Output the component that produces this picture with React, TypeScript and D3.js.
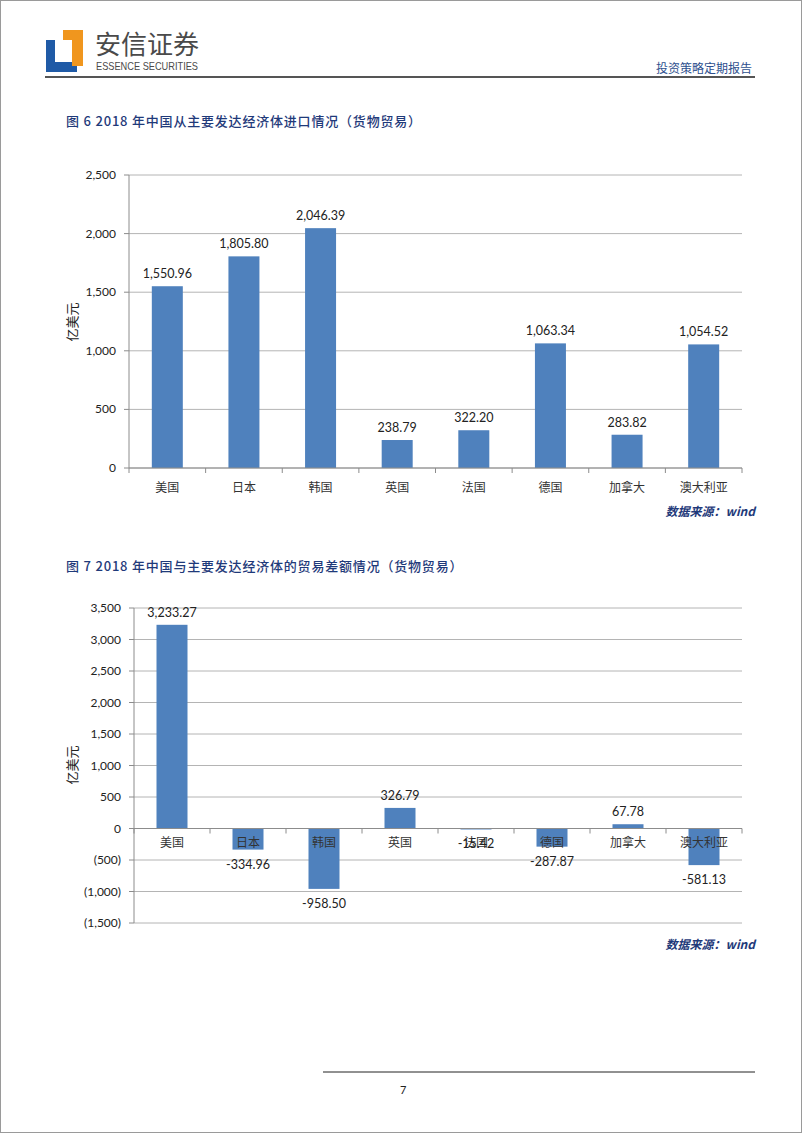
import React from 'react';
import * as d3 from 'd3';

const categories = ['美国', '日本', '韩国', '英国', '法国', '德国', '加拿大', '澳大利亚'];
const importValues = [1550.96, 1805.8, 2046.39, 238.79, 322.2, 1063.34, 283.82, 1054.52];
const balanceValues = [3233.27, -334.96, -958.5, 326.79, -15.42, -287.87, 67.78, -581.13];
const importTicks = [0, 500, 1000, 1500, 2000, 2500];
const balanceTicks = [-1500, -1000, -500, 0, 500, 1000, 1500, 2000, 2500, 3000, 3500];

const BLUE = '#4f81bd';
const TITLE = '#1f3a7a';
const numFont = 'Lato, "Open Sans", sans-serif';
const cjkFont = '"Noto Sans CJK SC", sans-serif';

const fmtTick = (v: number) => (v < 0 ? '(' + d3.format(',')(-v) + ')' : d3.format(',')(v));
const fmtVal = (v: number) => (v < 0 ? '-' + d3.format(',.2f')(-v) : d3.format(',.2f')(v));

type ChartProps = {
  values: number[];
  ticks: number[];
  x0: number;
  x1: number;
  yTop: number;
  yBottom: number;
  catY: number;
  titleX: number;
  titleY: number;
};

function BarChart(p: ChartProps) {
  const x = d3.scaleBand<string>().domain(categories).range([p.x0, p.x1]);
  const ext = d3.extent(p.ticks) as [number, number];
  const y = d3.scaleLinear().domain(ext).range([p.yBottom, p.yTop]);
  const bw = 31;
  const zero = y(0);
  const bounds = categories.map((c) => x(c) as number).concat([p.x1]);
  return (
    <g>
      {p.ticks.map((t) => (
        <g key={t}>
          <line x1={p.x0} x2={p.x1} y1={y(t)} y2={y(t)} stroke="#b4b4b4" strokeWidth={1} />
          <line x1={p.x0 - 5} x2={p.x0} y1={y(t)} y2={y(t)} stroke="#8c8c8c" />
          <text x={p.x0 - 13} y={y(t) + 4} textAnchor="end" fontSize={12} fontFamily={numFont} fill="#222">
            {fmtTick(t)}
          </text>
        </g>
      ))}
      <line x1={p.x0} x2={p.x0} y1={p.yTop} y2={p.yBottom} stroke="#8c8c8c" />
      {categories.map((c, i) => {
        const v = p.values[i];
        const cx = (x(c) as number) + x.bandwidth() / 2;
        const top = Math.min(y(v), zero);
        const h = Math.abs(y(v) - zero);
        return <rect key={c} x={cx - bw / 2} y={top} width={bw} height={h} fill={BLUE} />;
      })}
      <line x1={p.x0} x2={p.x1} y1={zero} y2={zero} stroke="#8c8c8c" />
      {bounds.map((b, i) => (
        <line key={i} x1={b} x2={b} y1={zero} y2={zero + 5} stroke="#8c8c8c" />
      ))}
      {categories.map((c) => (
        <text key={c} x={(x(c) as number) + x.bandwidth() / 2} y={p.catY} textAnchor="middle" fontSize={12} fontFamily={cjkFont} fill="#333">
          {c}
        </text>
      ))}
      {categories.map((c, i) => {
        const v = p.values[i];
        const cx = (x(c) as number) + x.bandwidth() / 2;
        const ly = v >= 0 ? y(v) - 8 : y(v) + 19;
        return (
          <text key={c} x={cx} y={ly} textAnchor="middle" fontSize={12.5} fontFamily={numFont} fill="#222">
            {fmtVal(v)}
          </text>
        );
      })}
      <text
        transform={`translate(${p.titleX},${p.titleY}) rotate(-90)`}
        textAnchor="middle"
        fontSize={13}
        fontFamily={cjkFont}
        fill="#222"
      >
        亿美元
      </text>
    </g>
  );
}

export default function App() {
  return (
    <svg width={802} height={1133} style={{ position: 'absolute', left: 0, top: 0, background: '#fff' }}>
      <rect x={0.5} y={0.5} width={801} height={1132} fill="#fff" stroke="#9a9a9a" />
      {/* header */}
      <path d="M46,40 H55 V63 H46 Z" fill="#1f5aa6" />
      <path d="M46,62 H77 V72 H46 Z" fill="#1f5aa6" />
      <path d="M63,30 H83 V66 H72 V40 H63 Z" fill="#f0961e" />
      <text x={95} y={54} fontSize={26} fontFamily={cjkFont} fill="#4a4a4a">
        安信证券
      </text>
      <text x={96} y={70} fontSize={11} textLength={102} lengthAdjust="spacingAndGlyphs" fontFamily={'"Liberation Sans Narrow", "Liberation Sans", sans-serif'} fill="#4a4a4a">
        ESSENCE SECURITIES
      </text>
      <text x={752} y={73} textAnchor="end" fontSize={12} fontFamily={cjkFont} fill="#2d4f8e">
        投资策略定期报告
      </text>
      <line x1={45} x2={755} y1={77} y2={77} stroke="#555" strokeWidth={2} />

      <text x={66} y={126} fontSize={13} fontWeight={500} letterSpacing={0.8} fontFamily={cjkFont} fill={TITLE}>
        图 6 2018 年中国从主要发达经济体进口情况（货物贸易）
      </text>
      <BarChart values={importValues} ticks={importTicks} x0={129} x1={742} yTop={175} yBottom={468} catY={492} titleX={77} titleY={322} />
      <text x={755} y={516} textAnchor="end" fontSize={12} fontStyle="italic" fontWeight="bold" fontFamily={cjkFont} fill={TITLE}>
        数据来源：wind
      </text>

      <text x={66} y={571} fontSize={13} fontWeight={500} letterSpacing={0.8} fontFamily={cjkFont} fill={TITLE}>
        图 7 2018 年中国与主要发达经济体的贸易差额情况（货物贸易）
      </text>
      <BarChart values={balanceValues} ticks={balanceTicks} x0={134} x1={742} yTop={608} yBottom={923} catY={847} titleX={77} titleY={765} />
      <text x={755} y={949} textAnchor="end" fontSize={12} fontStyle="italic" fontWeight="bold" fontFamily={cjkFont} fill={TITLE}>
        数据来源：wind
      </text>

      <line x1={323} x2={755} y1={1072} y2={1072} stroke="#222" strokeWidth={1} />
      <text x={400} y={1094} fontSize={11} fontFamily={numFont} fill="#222">
        7
      </text>
    </svg>
  );
}
